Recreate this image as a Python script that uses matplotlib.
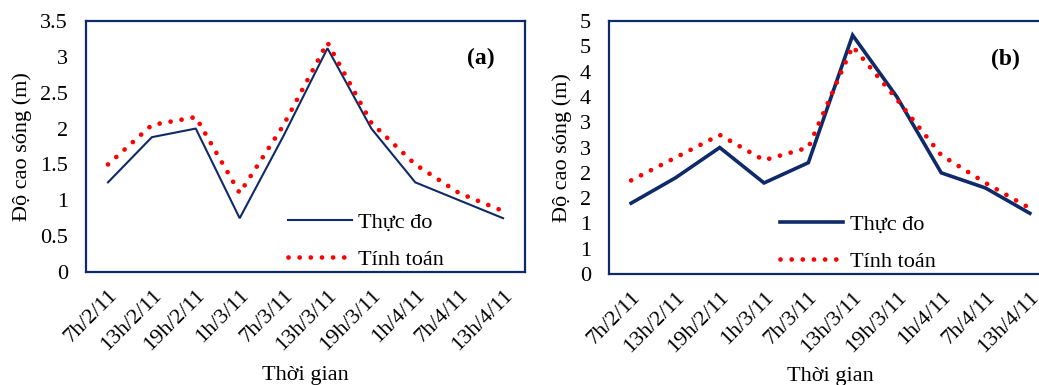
import matplotlib
matplotlib.use("Agg")
import matplotlib.pyplot as plt
from matplotlib.ticker import FuncFormatter
from decimal import Decimal, ROUND_HALF_UP

plt.rcParams["font.family"] = ["Liberation Serif", "DejaVu Serif"]

# Dữ liệu
thoi_gian = ["7h/2/11", "13h/2/11", "19h/2/11", "1h/3/11", "7h/3/11",
             "13h/3/11", "19h/3/11", "1h/4/11", "7h/4/11", "13h/4/11"]

thuc_do_a = [1.25, 1.88, 2.0, 0.75, 1.9, 3.12, 2.0, 1.25, 1.0, 0.75]
tinh_toan_a = [1.5, 2.05, 2.16, 1.1, 2.05, 3.2, 2.08, 1.5, 1.1, 0.85]

thuc_do_b = [1.4, 1.9, 2.5, 1.8, 2.2, 4.72, 3.5, 2.0, 1.7, 1.2]
tinh_toan_b = [1.85, 2.3, 2.75, 2.25, 2.5, 4.5, 3.45, 2.35, 1.8, 1.3]

yticks_a = [0, 0.5, 1, 1.5, 2, 2.5, 3, 3.5]
yticks_b = [0, 0.5, 1, 1.5, 2, 2.5, 3, 3.5, 4, 4.5, 5]

navy = "#0F2A68"
red = "#FF0000"
fs = 16

fig = plt.figure(figsize=(10.39, 3.85), dpi=100)
ax_a = fig.add_axes([0.0828, 0.2935, 0.4225, 0.652])
ax_b = fig.add_axes([0.5861, 0.2883, 0.4264, 0.657])


def so_g(v, pos):
    return "%g" % v


def excel_int(v, pos):
    # Excel định dạng "0" (làm tròn nửa lên)
    return str(int(Decimal(str(v)).quantize(Decimal("1"), rounding=ROUND_HALF_UP)))


def ve(ax, thuc_do, tinh_toan, yticks, lw, nhan, fmt, leg_x, nhan_x):
    x = range(len(thoi_gian))
    ax.plot(x, thuc_do, color=navy, lw=lw, label="Thực đo",
            solid_joinstyle="miter")
    ax.plot(x, tinh_toan, color=red, lw=3.4, dashes=(0.01, 2.35),
            dash_capstyle="round", label="Tính toán")
    ax.set_xlim(-0.5, len(thoi_gian) - 0.5)
    ax.set_ylim(yticks[0], yticks[-1])
    ax.set_yticks(yticks)
    ax.yaxis.set_major_formatter(FuncFormatter(fmt))
    ax.set_xticks(list(x))
    ax.set_xticklabels(thoi_gian, rotation=45, ha="right",
                       rotation_mode="anchor")
    ax.tick_params(axis="both", length=0, labelsize=fs)
    ax.tick_params(axis="y", pad=13)
    ax.tick_params(axis="x", pad=10)
    for s in ax.spines.values():
        s.set_color(navy)
        s.set_linewidth(1.6)
    ax.set_ylabel("Độ cao sóng (m)", fontsize=fs)
    ax.set_xlabel("Thời gian", fontsize=fs)
    ax.text(nhan_x, 0.85, nhan, transform=ax.transAxes, fontsize=17,
            fontweight="bold", ha="center", va="center")
    ax.legend(loc="lower left", bbox_to_anchor=(leg_x, -0.07), frameon=False,
              fontsize=fs, handlelength=2.85, handletextpad=0.3,
              labelspacing=0.75)


ve(ax_a, thuc_do_a, tinh_toan_a, yticks_a, 1.5, "(a)", so_g, 0.415, 0.90)
ve(ax_b, thuc_do_b, tinh_toan_b, yticks_b, 2.6, "(b)", excel_int, 0.34, 0.894)

ax_a.yaxis.set_label_coords(-0.122, 0.5)
ax_b.yaxis.set_label_coords(-0.083, 0.5)
ax_a.xaxis.set_label_coords(0.5, -0.376)
ax_b.xaxis.set_label_coords(0.5, -0.366)

fig.savefig("out.png", dpi=100)
